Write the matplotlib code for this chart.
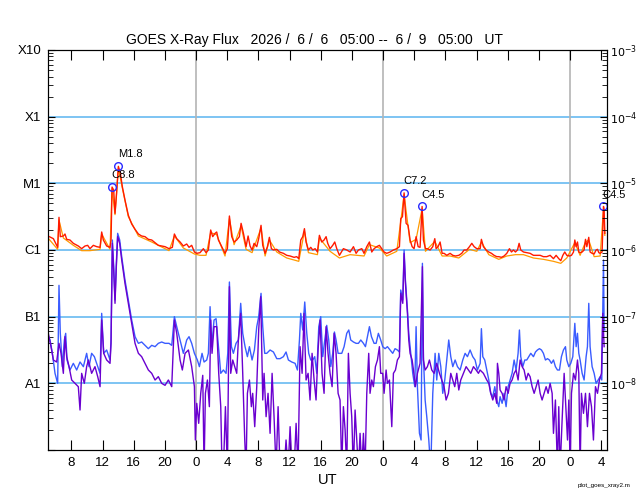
"""
GOES X-ray flux, 3 day window, redrawn with matplotlib.
"""
import matplotlib
matplotlib.use("Agg")
import matplotlib.pyplot as plt
import numpy as np
from matplotlib.ticker import LogLocator, NullFormatter

# hours after 2026-06-06 05:00 UT, flux given as log10(W/m^2)
red_t = [0.00, 0.69, 1.24, 1.41, 1.58, 1.97, 2.18, 2.40, 2.82, 3.25,
         3.89, 4.32, 4.75, 5.09, 5.39, 5.82, 6.25, 6.68, 6.89, 7.10,
         7.53, 7.96, 8.09, 8.22, 8.43, 8.60, 8.77, 9.03, 9.29, 9.54,
         9.88, 10.31, 10.74, 11.17, 11.60, 12.02, 12.45, 12.88, 13.31, 13.74,
         14.16, 14.59, 15.02, 15.53, 15.96, 16.22, 16.52, 16.95, 17.37, 17.80,
         18.10, 18.44, 18.79,
         19.09, 19.51, 19.94, 20.28, 20.58, 20.88, 21.14, 21.44, 21.65, 21.87,
         22.30, 22.72, 23.02, 23.28, 23.58, 23.88, 24.22, 24.56, 24.78, 25.08,
         25.42, 25.68, 25.93, 26.19, 26.45, 26.79, 27.04, 27.34, 27.56, 27.86,
         28.16, 28.41, 28.67, 28.93, 29.36, 29.70, 30.21, 30.64, 31.07, 31.58,
         31.92, 32.18, 32.44, 32.69, 32.91, 33.12, 33.42, 33.72, 33.98, 34.28,
         34.58, 34.83, 35.13, 35.43, 35.69, 35.90, 36.20, 36.54, 36.80, 37.06,
         37.40,
         37.91, 38.34, 38.77, 39.20, 39.54, 39.84, 40.27, 40.56, 40.91, 41.25,
         41.55, 41.85, 42.19, 42.53, 42.83, 43.13, 43.47, 43.90, 44.33, 44.76,
         45.10, 45.27, 45.49, 45.70, 45.96, 46.21, 46.47, 46.73, 46.98, 47.24,
         47.50, 47.75, 48.01, 48.18, 48.44, 48.69, 49.04, 49.38, 49.64, 49.81,
         50.06, 50.32, 50.58, 50.83, 51.18, 51.60, 51.95, 52.29, 52.72, 53.10,
         53.40, 53.74, 54.09, 54.39, 54.69, 55.03, 55.46,
         55.62, 55.88, 56.22, 56.57, 56.91, 57.25, 57.59, 57.85, 58.19, 58.53,
         58.88, 59.22, 59.48, 59.73, 59.99, 60.25, 60.46, 60.67, 61.02, 61.44,
         61.87, 62.30, 62.73, 63.16, 63.58, 64.01, 64.44, 64.87, 65.21, 65.55,
         65.81, 66.07, 66.32, 66.58, 66.92, 67.18, 67.44, 67.61, 67.78, 67.95,
         68.12, 68.29, 68.55, 68.80, 68.98, 69.15, 69.40, 69.57, 69.83, 70.09,
         70.34, 70.52, 70.69, 70.86, 71.11, 71.29, 71.37, 71.46]
red_exp = [-5.79, -5.83, -5.96, -5.51, -5.80, -5.79, -5.76, -5.84, -5.85, -5.90,
           -5.94, -5.98, -5.94, -5.93, -5.98, -5.93, -5.95, -5.96, -5.73, -5.85,
           -5.94, -5.96, -5.85, -5.056, -5.10, -5.45, -5.20, -4.745, -4.85, -5.05,
           -5.25, -5.48, -5.61, -5.69, -5.76, -5.79, -5.80, -5.84, -5.85, -5.89,
           -5.93, -5.94, -5.95, -5.98, -5.96, -5.76, -5.83, -5.88, -5.94, -5.91,
           -5.96, -5.93, -6.03,
           -6.05, -6.04, -5.98, -6.04, -6.00, -5.70, -5.80, -5.75, -5.73, -5.85,
           -5.95, -6.05, -5.98, -5.49, -5.80, -5.88, -5.85, -5.80, -5.60, -5.75,
           -5.95, -5.79, -5.94, -6.00, -5.90, -5.95, -5.83, -5.63, -5.93, -6.05,
           -5.95, -5.81, -5.98, -6.00, -5.99, -6.03, -6.05, -6.08, -6.09, -6.11,
           -6.10, -6.13, -5.85, -5.80, -5.68, -5.88, -6.00, -5.96, -6.00, -5.98,
           -6.03, -5.78, -5.88, -5.85, -5.80, -5.90, -5.98, -5.93, -5.88, -5.98,
           -6.08,
           -5.98, -6.00, -6.03, -5.95, -6.05, -6.00, -5.98, -6.05, -5.95, -5.88,
           -6.03, -5.98, -5.95, -5.93, -5.98, -6.03, -6.05, -6.03, -6.00, -5.98,
           -5.95, -5.53, -5.50, -5.143, -5.60, -5.63, -5.85, -5.95, -5.98, -5.80,
           -5.95, -5.96, -5.347, -5.85, -5.98, -5.98, -6.00, -5.95, -5.83, -5.98,
           -5.95, -5.88, -6.05, -6.05, -6.08, -6.05, -6.08, -6.09, -6.08, -6.05,
           -6.00, -6.00, -5.95, -5.90, -5.95, -5.98, -5.98,
           -5.84, -5.95, -6.00, -6.03, -6.05, -6.08, -6.10, -6.10, -6.11, -6.09,
           -6.05, -5.98, -6.03, -6.00, -6.03, -6.00, -5.90, -6.00, -6.03, -6.04,
           -6.05, -6.08, -6.08, -6.08, -6.10, -6.10, -6.08, -6.13, -6.08, -6.13,
           -6.16, -6.08, -6.03, -6.08, -6.09, -6.08, -6.03, -5.85, -5.95, -5.88,
           -6.03, -6.04, -6.03, -6.00, -5.84, -5.95, -5.81, -6.03, -6.05, -6.06,
           -6.00, -5.99, -6.04, -6.05, -6.03, -5.347, -5.40, -5.75]

orange_t = [0.00, 1.24, 1.41, 1.97, 3.25, 4.32, 5.39, 6.68, 6.89, 7.96,
            8.22, 8.60, 9.03, 9.54, 10.31, 11.60, 13.31, 15.53, 16.22, 17.37,
            18.79, 19.51, 20.28, 20.88, 21.65, 22.72, 23.28, 23.88, 24.78, 25.42,
            26.19, 27.34, 27.86, 28.41, 29.36, 30.64, 31.58, 32.18, 32.91, 33.42,
            34.58, 34.83, 36.20, 37.40, 38.77, 40.56, 41.25, 42.53, 43.47, 44.76,
            45.27, 45.70, 46.47, 47.24, 48.01, 48.44, 49.64, 50.58, 51.60, 52.72,
            54.09, 55.03, 55.62, 56.57, 57.85, 58.88, 59.99, 61.02, 62.30, 63.58,
            64.87, 65.81, 66.58, 67.61, 68.29, 68.98, 69.40, 70.09, 70.86, 71.29,
            71.46]
orange_exp = [-5.82, -5.99, -5.55, -5.82, -5.93, -6.01, -6.01, -5.99, -5.76, -5.99,
              -5.08, -5.47, -4.77, -5.07, -5.50, -5.79, -5.88, -6.01, -5.79, -5.97,
              -6.06, -6.08, -6.08, -5.74, -5.77, -6.09, -5.53, -5.92, -5.64, -5.99,
              -6.04, -5.67, -6.09, -5.85, -6.03, -6.12, -6.15, -6.17, -5.72, -6.04,
              -6.07, -5.82, -6.02, -6.12, -6.07, -6.09, -5.92, -5.97, -6.09, -6.02,
              -5.57, -5.17, -5.89, -5.84, -5.38, -6.02, -5.87, -6.09, -6.09, -6.12,
              -5.99, -6.02, -5.88, -6.07, -6.14, -6.09, -6.07, -6.07, -6.12, -6.14,
              -6.17, -6.20, -6.12, -5.89, -6.08, -5.88, -5.85, -6.10, -6.09, -5.38,
              -5.78]

blue_t = [0.00, 0.26, 0.56, 0.90, 1.24, 1.41, 1.58, 1.84, 2.10, 2.27,
          2.44, 2.82, 3.25, 3.68, 4.11, 4.54, 4.96, 5.26, 5.60, 5.95,
          6.38, 6.68, 6.89, 7.15, 7.53, 7.96, 8.09, 8.26, 8.43, 8.60,
          8.77, 8.94, 9.20, 9.46, 9.88, 10.31, 10.74, 11.17, 11.60, 12.02,
          12.45, 12.88, 13.31, 13.74, 14.16, 14.59, 15.02, 15.53, 15.88, 16.22,
          16.52, 16.95, 17.37, 17.80, 18.10, 18.44, 18.79,
          19.17, 19.43, 19.77, 20.03, 20.37, 20.58, 20.80, 21.01, 21.31, 21.57,
          21.87, 22.17, 22.51, 22.85, 23.07, 23.28, 23.54, 23.79, 24.13, 24.43,
          24.73, 24.99, 25.29, 25.59, 25.85, 26.19, 26.49, 26.79, 27.04, 27.34,
          27.56, 27.81, 28.07, 28.50, 28.93, 29.36, 29.78, 30.21, 30.55, 30.85,
          31.28, 31.71, 32.01, 32.27, 32.44, 32.69, 32.95, 33.21, 33.46, 33.72,
          33.98, 34.23, 34.49, 34.75, 35.00, 35.26, 35.52, 35.77, 36.03, 36.29,
          36.54, 36.76, 36.97, 37.23, 37.48,
          37.70, 38.00, 38.34, 38.60, 38.85, 39.20, 39.54, 39.84, 40.14, 40.48,
          40.74, 40.99, 41.25, 41.51, 41.85, 42.11, 42.40, 42.70, 42.96, 43.26,
          43.56, 43.90, 44.24, 44.54, 44.84, 45.10, 45.27, 45.53, 45.70, 45.87,
          46.13, 46.30, 46.56, 46.81, 47.07, 47.24, 47.41, 47.67, 47.88, 48.05,
          48.18, 48.40, 48.61, 48.87, 49.12, 49.38, 49.68, 49.89, 50.15, 50.41,
          50.66, 50.92, 51.18, 51.43, 51.69, 51.95, 52.25, 52.55, 52.89, 53.23,
          53.53, 53.83, 54.17, 54.51, 54.81, 55.11, 55.46,
          55.62, 55.80, 56.05, 56.31, 56.57, 56.82, 57.08, 57.34, 57.59, 57.85,
          58.02, 58.28, 58.53, 58.79, 59.05, 59.30, 59.56, 59.82, 60.07, 60.33,
          60.50, 60.67, 60.93, 61.19, 61.44, 61.70, 61.96, 62.30, 62.56, 62.81,
          63.07, 63.33, 63.58, 63.84, 64.10, 64.35, 64.61, 64.87, 65.12, 65.38,
          65.64, 65.89, 66.15, 66.41, 66.58, 66.84, 67.09, 67.35, 67.61, 67.78,
          67.95, 68.12, 68.29, 68.55, 68.80, 69.06, 69.23, 69.40, 69.57, 69.83,
          70.09, 70.34, 70.60, 70.86, 71.07, 71.20, 71.29, 71.37, 71.46]
blue_exp = [-7.28, -7.35, -7.55, -7.85, -8.00, -6.53, -7.25, -7.75, -7.35, -7.25,
            -7.65, -7.80, -7.70, -7.80, -7.68, -7.75, -7.55, -7.75, -7.55, -7.60,
            -7.75, -7.85, -6.95, -7.55, -7.50, -7.65, -7.35, -5.85, -6.25, -6.75,
            -6.20, -5.75, -5.85, -6.10, -6.45, -6.75, -7.05, -7.30, -7.40, -7.38,
            -7.43, -7.48, -7.43, -7.45, -7.40, -7.38, -7.40, -7.40, -7.43, -7.00,
            -7.15, -7.35, -7.55, -7.35, -7.30, -7.40, -7.55,
            -7.65, -7.75, -7.55, -7.68, -7.65, -7.55, -6.85, -7.45, -7.05, -7.03,
            -7.45, -7.85, -7.80, -7.85, -7.55, -6.48, -7.45, -7.55, -7.40, -7.35,
            -6.80, -7.25, -7.45, -7.60, -7.45, -7.65, -7.50, -7.15, -7.00, -6.65,
            -7.15, -7.55, -7.55, -7.50, -7.53, -7.63, -7.63, -7.60, -7.53, -7.65,
            -7.68, -7.70, -7.80, -7.35, -6.95, -7.20, -6.78, -7.25, -7.55, -7.65,
            -7.65, -7.60, -7.85, -7.15, -7.00, -7.60, -7.35, -7.13, -7.35, -7.75,
            -7.55, -7.23, -7.35, -7.55, -7.55,
            -7.55, -7.45, -7.25, -7.20, -7.35, -7.38, -7.40, -7.40, -7.35, -7.40,
            -7.45, -7.30, -7.15, -7.30, -7.40, -7.40, -7.25, -7.35, -7.45, -7.48,
            -7.45, -7.50, -7.55, -7.48, -7.50, -7.53, -6.60, -6.75, -6.00, -6.45,
            -6.90, -7.25, -7.55, -7.85, -8.05, -7.15, -8.05, -8.75, -8.85, -6.20,
            -7.60, -8.25, -8.50, -8.85, -9.30, -8.15, -7.55, -7.95, -7.55, -7.75,
            -8.15, -7.95, -7.65, -7.35, -7.60, -7.75, -7.65, -7.75, -7.80, -7.65,
            -7.55, -7.60, -7.50, -7.60, -7.65, -7.80, -7.70,
            -7.18, -7.60, -7.65, -7.80, -7.95, -8.15, -8.20, -8.05, -8.25, -8.35,
            -8.20, -8.30, -8.15, -8.35, -8.05, -7.95, -7.85, -7.65, -7.80, -7.55,
            -7.20, -7.60, -7.75, -7.65, -7.65, -7.60, -7.55, -7.60, -7.53, -7.50,
            -7.48, -7.50, -7.55, -7.65, -7.63, -7.65, -7.70, -7.65, -7.75, -7.80,
            -7.80, -7.60, -7.50, -7.45, -7.65, -7.75, -7.70, -7.60, -7.10, -7.45,
            -7.25, -7.55, -7.65, -7.85, -7.95, -7.60, -7.45, -6.80, -7.45, -7.75,
            -7.85, -8.00, -7.95, -7.90, -7.95, -6.85, -6.15, -7.15, -7.20]

purple_t = [0.00, 0.39, 0.69, 1.11, 1.41, 1.67, 1.97, 2.18, 2.40, 2.70,
            3.04, 3.47, 3.89, 4.11, 4.32, 4.66, 4.96, 5.18, 5.60, 6.03,
            6.38, 6.68, 6.89, 7.15, 7.53, 7.96, 8.09, 8.26, 8.43, 8.60,
            8.77, 8.94, 9.20, 9.46, 9.88, 10.31, 10.74, 11.17, 11.60, 12.02,
            12.45, 12.88, 13.31, 13.74, 14.16, 14.59, 15.02, 15.45, 15.88, 16.22,
            16.52, 16.95, 17.24, 17.59, 18.02, 18.44, 18.79,
            18.91, 19.09, 19.34, 19.60, 19.86, 20.03, 20.20, 20.46, 20.71, 20.88,
            21.05, 21.31, 21.65, 21.91, 22.17, 22.34, 22.51, 22.77, 23.02, 23.28,
            23.45, 23.71, 23.96, 24.22, 24.43, 24.73, 24.99, 25.25, 25.42, 25.59,
            25.85, 26.10, 26.27, 26.53, 26.79, 27.04, 27.30, 27.56, 27.73, 27.99,
            28.24, 28.50, 28.76, 29.01, 29.27, 29.53, 29.78, 30.30, 30.55, 30.81,
            31.07, 31.32, 31.58, 31.84, 32.09, 32.35, 32.61, 32.86, 33.12, 33.38,
            33.63, 33.89, 34.15, 34.40, 34.66, 34.92, 35.17, 35.43, 35.69, 35.94,
            36.20, 36.46, 36.72, 36.97, 37.23, 37.48,
            37.70, 37.91, 38.13, 38.34, 38.55, 38.77, 38.98, 39.20, 39.41, 39.62,
            39.84, 40.05, 40.27, 40.48, 40.69, 40.91, 41.16, 41.33, 41.55, 41.76,
            42.02, 42.28, 42.53, 42.70, 42.96, 43.13, 43.39, 43.56, 43.82, 44.12,
            44.33, 44.59, 44.84, 45.10, 45.27, 45.53, 45.70, 45.87, 46.13, 46.30,
            46.47, 46.73, 46.90, 47.15, 47.41, 47.75, 48.05, 48.18, 48.40, 48.69,
            48.95, 49.25, 49.55, 49.89, 50.24, 50.53, 50.83, 51.09, 51.39, 51.69,
            51.95, 52.20, 52.46, 52.72, 52.97, 53.32, 53.66, 53.96, 54.26, 54.60,
            54.94, 55.24, 55.45,
            55.88, 56.31, 56.57, 56.82, 57.08, 57.34, 57.59, 57.68, 57.85, 58.02,
            58.28, 58.53, 58.79, 59.05, 59.30, 59.56, 59.82, 60.07, 60.33, 60.59,
            60.85, 61.10, 61.36, 61.62, 61.87, 62.13, 62.39, 62.64, 62.90, 63.16,
            63.41, 63.67, 63.93, 64.18, 64.44, 64.70, 64.87, 65.12, 65.38, 65.55,
            65.72, 65.98, 66.24, 66.49, 66.67, 66.84, 67.01, 67.18, 67.44, 67.69,
            67.95, 68.12, 68.29, 68.46, 68.72, 68.98, 69.23, 69.49, 69.75, 70.00,
            70.26, 70.52, 70.77, 71.03, 71.20, 71.37]
purple_exp = [-7.23, -7.45, -7.65, -7.68, -7.40, -7.55, -7.85, -7.30, -7.60, -7.75,
              -7.95, -8.00, -8.05, -8.40, -7.85, -8.00, -7.75, -7.65, -7.85, -7.75,
              -7.90, -8.05, -7.05, -7.55, -7.65, -7.70, -7.40, -5.90, -6.30, -6.80,
              -6.25, -5.80, -5.90, -6.15, -6.50, -6.80, -7.10, -7.40, -7.55, -7.60,
              -7.70, -7.80, -7.85, -7.95, -7.90, -8.00, -8.03, -7.95, -8.05, -7.05,
              -7.25, -7.65, -7.80, -7.55, -7.50, -7.75, -8.05,
              -8.85, -8.30, -8.60, -8.15, -7.88, -9.30, -8.15, -7.95, -8.35, -7.05,
              -7.55, -7.15, -7.15, -7.85, -8.35, -9.30, -9.30, -8.35, -9.30, -6.55,
              -7.85, -7.65, -7.75, -7.85, -7.35, -6.95, -7.85, -8.85, -9.30, -8.15,
              -7.95, -8.35, -8.15, -8.65, -8.05, -7.20, -6.70, -8.25, -7.85, -8.50,
              -8.15, -8.75, -7.85, -8.50, -9.30, -8.35, -9.30, -9.30, -8.85, -9.30,
              -8.65, -9.30, -9.30, -8.60, -9.30, -7.45, -7.85, -6.95, -7.95, -7.85,
              -8.25, -7.55, -7.95, -8.25, -7.50, -7.05, -7.85, -8.15, -7.15, -7.55,
              -7.85, -8.05, -7.25, -7.55, -8.15, -8.25,
              -9.30, -8.35, -8.70, -9.30, -7.55, -8.15, -8.50, -9.30, -8.40, -8.85,
              -9.30, -8.75, -9.30, -8.75, -9.30, -8.15, -7.55, -8.15, -7.95, -8.05,
              -7.75, -7.65, -7.45, -7.85, -7.85, -8.15, -7.80, -8.00, -7.95, -8.65,
              -7.85, -7.80, -7.65, -7.60, -6.65, -6.80, -6.05, -6.50, -6.95, -7.35,
              -7.55, -7.65, -7.80, -8.05, -7.85, -7.70, -6.25, -7.65, -7.80, -7.75,
              -7.65, -7.80, -7.85, -7.70, -7.85, -7.95, -8.05, -8.25, -8.15, -7.85,
              -7.95, -8.05, -7.85, -8.10, -7.95, -7.85, -7.75, -7.80, -7.85, -7.75,
              -7.80, -7.85, -7.80,
              -7.85, -7.95, -8.00, -8.15, -8.25, -8.15, -8.30, -7.70, -7.85, -8.10,
              -8.15, -8.25, -8.05, -8.15, -8.00, -7.95, -7.85, -7.80, -7.95, -7.65,
              -7.75, -7.80, -7.95, -7.85, -7.90, -8.05, -8.15, -8.05, -7.95, -8.15,
              -8.25, -8.15, -8.05, -8.15, -8.00, -8.15, -8.75, -8.25, -9.30, -8.35,
              -9.30, -8.55, -7.85, -8.45, -8.85, -8.25, -9.30, -8.15, -7.85, -7.95,
              -7.65, -7.85, -9.30, -8.15, -8.45, -8.15, -8.65, -8.15, -8.35, -8.85,
              -8.05, -8.15, -7.95, -7.85, -6.95, -7.45]

flare_labels = ["C8.8", "M1.8", "C7.2", "C4.5", "C4.5"]
flare_t = [8.22, 9.03, 45.70, 48.01, 71.29]
flare_flux = [8.8e-6, 1.8e-5, 7.2e-6, 4.5e-6, 4.5e-6]

class_labels = ["", "A1", "B1", "C1", "M1", "X1", "X10"]
power_labels = ["", r"$10^{-8}$", r"$10^{-7}$", r"$10^{-6}$",
                r"$10^{-5}$", r"$10^{-4}$", r"$10^{-3}$"]
decades = [1e-9, 1e-8, 1e-7, 1e-6, 1e-5, 1e-4, 1e-3]

start_hour = 5
hour_ticks = list(range(3, 72, 4))
hour_labels = [str((start_hour + h) % 24) for h in hour_ticks]
day_starts = [19, 43, 67]

plt.rcParams['font.family'] = ['Liberation Sans', 'DejaVu Sans']

fig = plt.figure(figsize=(6.4, 5.0), dpi=100)
ax = fig.add_axes([48 / 640, 50 / 500, 559 / 640, 400 / 500])

for v in decades[1:-1]:
    ax.axhline(v, color="#5ab4f0", lw=1.1, zorder=1)
for d in day_starts:
    ax.axvline(d, color="#b4b4b4", lw=1.2, zorder=1)

ax.plot(orange_t, 10 ** np.array(orange_exp), color="#ff9a00", lw=0.9, zorder=2)
ax.plot(red_t, 10 ** np.array(red_exp), color="#ff1a00", lw=1.0, zorder=3)
ax.plot(blue_t, 10 ** np.array(blue_exp), color="#3a5cff", lw=1.0, zorder=2)
ax.plot(purple_t, 10 ** np.array(purple_exp), color="#6a00d0", lw=1.0, zorder=2)

ax.plot(flare_t, flare_flux, "o", mfc="none", mec="#2a2aff", ms=5.5, mew=1.0,
        zorder=4, clip_on=False)
for lab, t, f in zip(flare_labels, flare_t, flare_flux):
    ax.annotate(lab, (t, f), xytext=(-0.5, 5), textcoords="offset points",
                fontsize=8, ha="left", va="bottom", annotation_clip=False)

ax.set_yscale("log")
ax.set_ylim(1e-9, 1e-3)
ax.set_xlim(0, 71.74)

ax.set_xticks(hour_ticks)
ax.set_xticklabels(hour_labels)
ax.tick_params(axis="x", which="major", direction="in", length=7, top=True,
               labelsize=9.5, pad=5)

ax.set_yticks(decades)
ax.set_yticklabels(class_labels)
ax.yaxis.set_minor_locator(LogLocator(base=10, subs=np.arange(2, 10)))
ax.yaxis.set_minor_formatter(NullFormatter())
ax.tick_params(axis="y", which="major", direction="in", length=5, labelsize=9.5, pad=5)
ax.tick_params(axis="y", which="minor", direction="in", length=3.5)

ax2 = ax.twinx()
ax2.set_yscale("log")
ax2.set_ylim(1e-9, 1e-3)
ax2.set_yticks(decades)
ax2.set_yticklabels(power_labels)
ax2.yaxis.set_minor_locator(LogLocator(base=10, subs=np.arange(2, 10)))
ax2.yaxis.set_minor_formatter(NullFormatter())
ax2.tick_params(axis="y", which="major", direction="in", length=5, labelsize=8, pad=2.5)
ax2.tick_params(axis="y", which="minor", direction="in", length=3.5)

ax.set_xlabel("UT", fontsize=10.5, labelpad=3)
ax.set_title("GOES X-Ray Flux   2026 /  6 /  6   05:00 --  6 /  9   05:00   UT",
             fontsize=10, pad=4, x=0.476)
fig.text(0.985, 0.03, "plot_goes_xray2.m", fontsize=4.5, ha="right", va="center")

fig.savefig("out.png", dpi=100)
